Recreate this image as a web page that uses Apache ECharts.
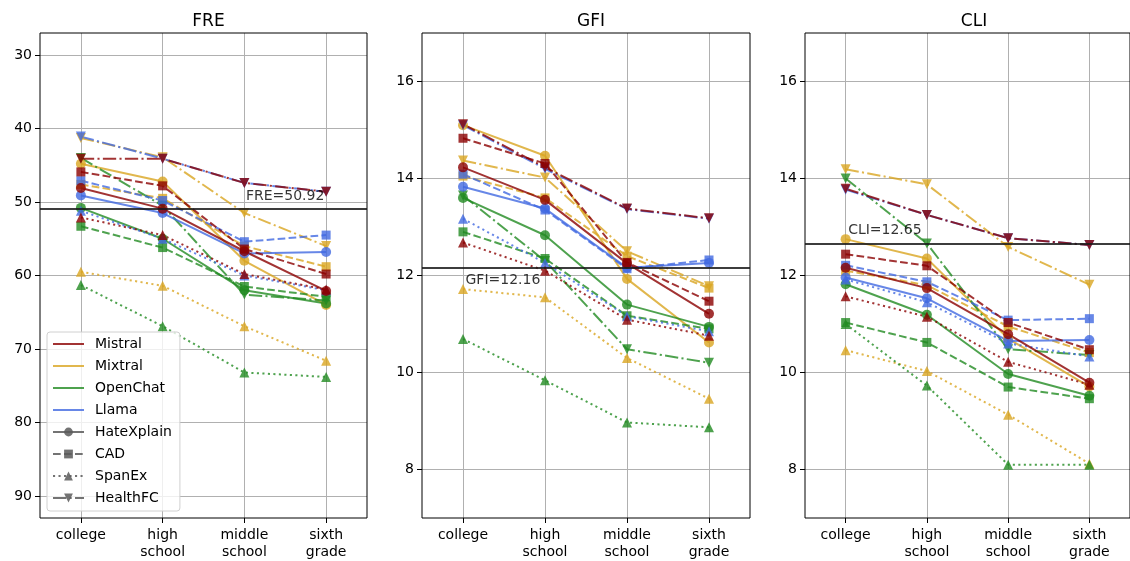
<!DOCTYPE html>
<html><head><meta charset="utf-8">
<script src="https://cdn.jsdelivr.net/npm/echarts@6/dist/echarts.min.js"></script>
<style>html,body{margin:0;padding:0;background:#fff}#c{width:1130px;height:561px}</style>
</head><body><div id="c"></div>
<script>
// ---------------- data ----------------
const categories = ['college', 'high\nschool', 'middle\nschool', 'sixth\ngrade'];
const metrics = ['FRE', 'GFI', 'CLI'];
const models = ['Mistral', 'Mixtral', 'OpenChat', 'Llama'];
const datasets = ['HateXplain', 'CAD', 'SpanEx', 'HealthFC'];
const referenceValues = [50.92, 12.16, 12.65];
const freTicks = [30, 40, 50, 60, 70, 80, 90];
const gfiTicks = [8, 10, 12, 14, 16];
const cliTicks = [8, 10, 12, 14, 16];

// each array: [HateXplain, CAD, SpanEx, HealthFC] over the 4 categories
const freMistral  = [[48.1, 50.9, 56.7, 62.1], [45.9, 47.8, 56.4, 59.8], [52.1, 54.5, 59.8, 61.9], [44.1, 44.1, 47.4, 48.6]];
const freMixtral  = [[44.8, 47.2, 58.0, 64.0], [47.6, 49.5, 56.0, 58.8], [59.5, 61.4, 66.9, 71.6], [41.3, 43.9, 51.5, 56.0]];
const freOpenChat = [[50.8, 55.0, 62.0, 63.8], [53.3, 56.2, 61.5, 62.9], [61.3, 66.9, 73.2, 73.8], [44.0, 50.5, 62.6, 63.4]];
const freLlama    = [[49.1, 51.5, 57.0, 56.8], [47.1, 49.8, 55.4, 54.5], [51.2, 55.0, 60.0, 62.0], [41.1, 44.1, 47.4, 48.6]];

const gfiMistral  = [[14.23, 13.56, 12.25, 11.21], [14.83, 14.31, 12.27, 11.47], [12.68, 12.10, 11.09, 10.76], [15.12, 14.23, 13.38, 13.18]];
const gfiMixtral  = [[15.10, 14.47, 11.93, 10.62], [14.05, 13.60, 12.40, 11.74], [11.72, 11.55, 10.30, 9.46], [14.37, 14.02, 12.50, 11.78]];
const gfiOpenChat = [[13.60, 12.83, 11.40, 10.94], [12.90, 12.35, 11.17, 10.90], [10.69, 9.84, 8.97, 8.87], [13.65, 12.30, 10.48, 10.20]];
const gfiLlama    = [[13.83, 13.38, 12.16, 12.26], [14.09, 13.35, 12.14, 12.32], [13.17, 12.26, 11.16, 10.85], [15.10, 14.20, 13.37, 13.17]];

const cliMistral  = [[12.16, 11.74, 10.79, 9.79], [12.44, 12.20, 11.03, 10.47], [11.57, 11.15, 10.22, 9.75], [13.79, 13.25, 12.77, 12.63]];
const cliMixtral  = [[12.75, 12.35, 10.70, 9.71], [12.10, 11.80, 10.95, 10.41], [10.46, 10.03, 9.13, 8.12], [14.19, 13.88, 12.59, 11.81]];
const cliOpenChat = [[11.82, 11.19, 9.97, 9.52], [11.03, 10.62, 9.70, 9.46], [11.00, 9.73, 8.10, 8.10], [14.00, 12.66, 10.48, 10.36]];
const cliLlama    = [[11.96, 11.53, 10.65, 10.67], [12.21, 11.87, 11.08, 11.11], [11.92, 11.45, 10.60, 10.33], [13.77, 13.25, 12.77, 12.63]];

// ---------------- assembly ----------------
const values = {
  FRE: { Mistral: freMistral, Mixtral: freMixtral, OpenChat: freOpenChat, Llama: freLlama },
  GFI: { Mistral: gfiMistral, Mixtral: gfiMixtral, OpenChat: gfiOpenChat, Llama: gfiLlama },
  CLI: { Mistral: cliMistral, Mixtral: cliMixtral, OpenChat: cliOpenChat, Llama: cliLlama }
};
const ticks = { FRE: freTicks, GFI: gfiTicks, CLI: cliTicks };

const FONT = 'DejaVu Sans';
const modelColor = { Mistral: '#8B0000', Mixtral: '#DAA520', OpenChat: '#228B22', Llama: '#4169E1' };
const dsStyle = {
  HateXplain: { symbol: 'circle', size: 10, rotate: 0, type: 'solid' },
  CAD:        { symbol: 'rect', size: 9, rotate: 0, type: [7.7, 3.3] },
  SpanEx:     { symbol: 'triangle', size: 10, rotate: 0, type: [2.1, 3.4] },
  HealthFC:   { symbol: 'triangle', size: 10, rotate: 180, type: [13.3, 3.3, 2.1, 3.3] }
};
const drawOrder = ['Mixtral', 'OpenChat', 'Llama', 'Mistral'];
const grids = [
  { left: 40, top: 33, width: 327, height: 486 },
  { left: 422, top: 33, width: 328, height: 486 },
  { left: 805, top: 33, width: 328, height: 486 }
];
const yRange = { FRE: [27, 93], GFI: [7, 17], CLI: [7, 17] };
const refLabel = [
  { at: 2, pos: [2, -12] },
  { at: 0, pos: [3, 13] },
  { at: 0, pos: [3, -13] }
];

const xIdx = categories.map((_, i) => i);
const gridOpts = [], xAxes = [], yAxes = [], titles = [], series = [];

metrics.forEach((m, gi) => {
  const g = grids[gi];
  gridOpts.push(Object.assign({ show: true, borderColor: '#000', borderWidth: 1, backgroundColor: 'transparent', z: 5 }, g));
  titles.push({
    text: m, left: g.left + g.width / 2, top: 8, textAlign: 'center',
    textStyle: { fontSize: 17, fontWeight: 'normal', color: '#000', fontFamily: FONT }
  });
  xAxes.push({
    type: 'value', gridIndex: gi, min: -0.5, max: 3.5, position: 'bottom',
    axisLine: { show: false, onZero: false },
    axisTick: { show: true, inside: false, customValues: xIdx, length: 5, lineStyle: { color: '#000', width: 1 } },
    axisLabel: { customValues: xIdx, formatter: v => categories[Math.round(v)], fontSize: 14, color: '#000', fontFamily: FONT, lineHeight: 17, margin: 9 },
    splitLine: { show: true, lineStyle: { color: '#b0b0b0', width: 1 } }
  });
  yAxes.push({
    type: 'value', gridIndex: gi, min: yRange[m][0], max: yRange[m][1], inverse: m === 'FRE', position: 'left',
    axisLine: { show: false, onZero: false },
    axisTick: { show: true, inside: false, customValues: ticks[m], length: 5, lineStyle: { color: '#000', width: 1 } },
    axisLabel: { customValues: ticks[m], fontSize: 14, color: '#000', fontFamily: FONT, margin: 8 },
    splitLine: { show: true, lineStyle: { color: '#b0b0b0', width: 1 } }
  });

  drawOrder.forEach(model => {
    datasets.forEach((ds, di) => {
      const st = dsStyle[ds];
      series.push({
        type: 'line', name: model + ' ' + ds, xAxisIndex: gi, yAxisIndex: gi,
        data: values[m][model][di].map((v, i) => [i, v]),
        symbol: st.symbol, symbolSize: st.size, symbolRotate: st.rotate, showAllSymbol: true,
        lineStyle: { color: modelColor[model], width: 2, type: st.type, opacity: 0.8 },
        itemStyle: { color: modelColor[model], opacity: 0.8 },
        emphasis: { disabled: true }, silent: true, animation: false, z: 3
      });
    });
  });

  // reference line + label
  series.push({
    type: 'scatter', name: m + ' ref', xAxisIndex: gi, yAxisIndex: gi,
    data: [[refLabel[gi].at, referenceValues[gi]]],
    symbolSize: 1, itemStyle: { color: 'rgba(0,0,0,0)' },
    label: {
      show: true, position: refLabel[gi].pos, align: 'left', verticalAlign: 'middle',
      formatter: m + '=' + referenceValues[gi].toFixed(2),
      fontSize: 14, color: '#000', fontFamily: FONT
    },
    markLine: {
      silent: true, symbol: 'none', animation: false,
      label: { show: false },
      lineStyle: { color: '#1a1a1a', width: 1.8, type: 'solid', opacity: 0.85 },
      data: [{ yAxis: referenceValues[gi] }]
    },
    silent: true, animation: false, z: 4
  });
});

// legend-only series
models.forEach(model => series.push({
  type: 'line', name: model, xAxisIndex: 0, yAxisIndex: 0, data: [],
  symbol: 'none', lineStyle: { color: modelColor[model], width: 2, opacity: 0.8 },
  itemStyle: { color: modelColor[model], opacity: 0 }
}));
datasets.forEach(ds => {
  const st = dsStyle[ds];
  series.push({
    type: 'line', name: ds, xAxisIndex: 0, yAxisIndex: 0, data: [],
    symbol: st.symbol, symbolRotate: st.rotate,
    lineStyle: { color: '#5a5a5a', width: 2, type: st.type, opacity: 0.85 },
    itemStyle: { color: '#5a5a5a', opacity: 0.85 }
  });
});

const chart = echarts.init(document.getElementById('c'), null, { renderer: 'canvas' });
chart.setOption({
  animation: false,
  backgroundColor: '#fff',
  title: titles,
  grid: gridOpts,
  xAxis: xAxes,
  yAxis: yAxes,
  legend: {
    orient: 'vertical', left: 47, top: 332,
    data: models.concat(datasets),
    itemWidth: 31, itemHeight: 11, itemGap: 8,
    selectedMode: false,
    textStyle: { fontSize: 14, color: '#000', fontFamily: FONT, lineHeight: 14, padding: [0, 0, 0, 6] },
    backgroundColor: 'rgba(255,255,255,0.8)', borderColor: '#d0d0d0', borderWidth: 1, borderRadius: 3,
    padding: [5, 8, 6, 5]
  },
  series: series
});
</script>
</body></html>
